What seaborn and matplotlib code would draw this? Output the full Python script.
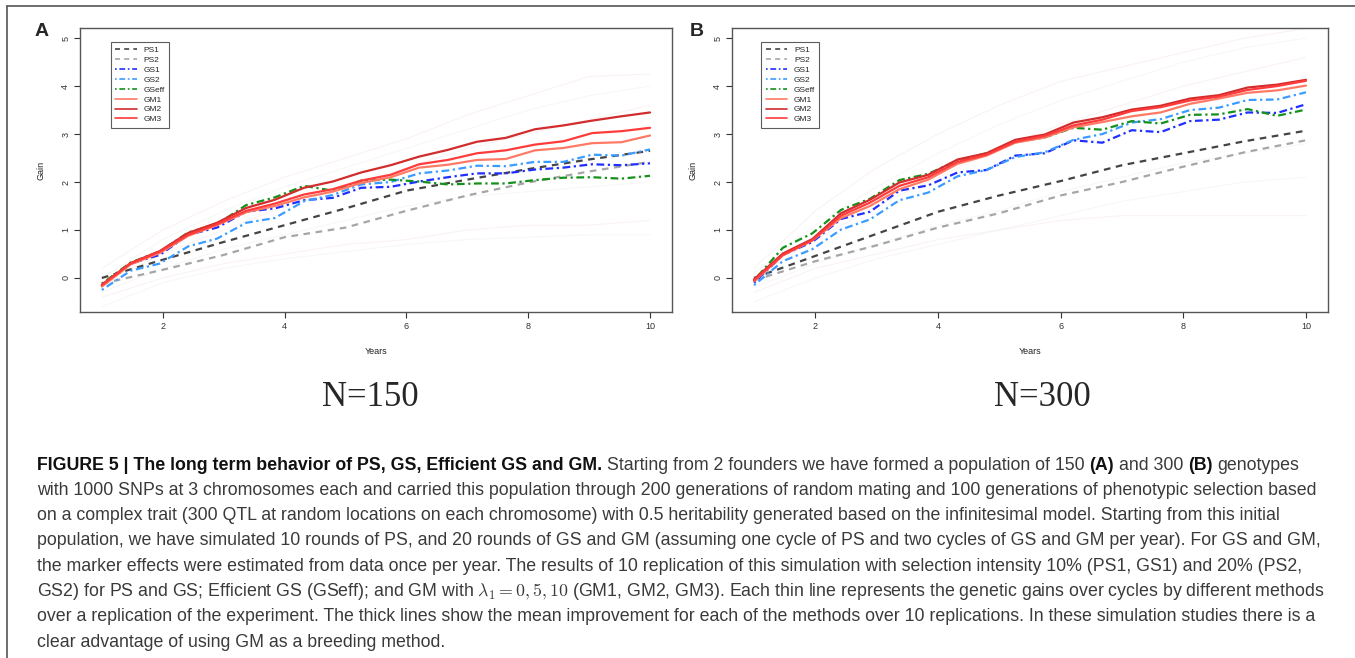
import matplotlib
matplotlib.use("Agg")
import matplotlib.pyplot as plt
import seaborn as sns
import pandas as pd
from matplotlib.lines import Line2D

# years at which each method was recorded
years_ps = [1, 2, 3, 4, 5, 6, 7, 8, 9, 10]
years_gs = [1.00, 1.47, 1.95, 2.42, 2.89, 3.37, 3.84, 4.32, 4.79, 5.26,
            5.74, 6.21, 6.68, 7.16, 7.63, 8.11, 8.58, 9.05, 9.53, 10.00]

# panel A (N=150), mean curves
a_ps1 = [0.00, 0.38, 0.75, 1.10, 1.45, 1.82, 2.05, 2.27, 2.47, 2.65]
a_ps2 = [-0.12, 0.17, 0.48, 0.85, 1.05, 1.40, 1.72, 1.99, 2.22, 2.42]
a_gs1 = [-0.15, 0.30, 0.48, 0.90, 1.05, 1.38, 1.45, 1.62, 1.67, 1.88,
         1.90, 2.01, 2.10, 2.18, 2.18, 2.26, 2.30, 2.37, 2.35, 2.39]
a_gs2 = [-0.25, 0.15, 0.30, 0.66, 0.82, 1.15, 1.25, 1.60, 1.73, 1.95,
         2.00, 2.18, 2.24, 2.34, 2.33, 2.42, 2.42, 2.57, 2.55, 2.68]
a_gseff = [-0.12, 0.32, 0.55, 0.95, 1.12, 1.52, 1.68, 1.92, 1.82, 2.03,
           2.05, 2.01, 1.95, 1.97, 1.97, 2.04, 2.09, 2.10, 2.07, 2.13]
a_gm1 = [-0.18, 0.28, 0.52, 0.88, 1.10, 1.37, 1.50, 1.68, 1.80, 1.98,
         2.10, 2.30, 2.36, 2.46, 2.48, 2.66, 2.71, 2.81, 2.83, 2.97]
a_gm2 = [-0.14, 0.31, 0.56, 0.94, 1.15, 1.46, 1.63, 1.88, 2.01, 2.20,
         2.35, 2.53, 2.67, 2.84, 2.92, 3.10, 3.18, 3.28, 3.37, 3.45]
a_gm3 = [-0.15, 0.30, 0.55, 0.90, 1.12, 1.40, 1.55, 1.74, 1.85, 2.03,
         2.15, 2.37, 2.46, 2.60, 2.66, 2.78, 2.85, 3.02, 3.06, 3.13]

# panel B (N=300), mean curves
b_ps1 = [0.00, 0.46, 0.92, 1.38, 1.72, 2.02, 2.35, 2.60, 2.85, 3.07]
b_ps2 = [-0.05, 0.35, 0.68, 1.05, 1.35, 1.72, 2.00, 2.32, 2.62, 2.87]
b_gs1 = [-0.10, 0.48, 0.75, 1.23, 1.38, 1.82, 1.93, 2.20, 2.25, 2.55,
         2.60, 2.87, 2.82, 3.08, 3.04, 3.27, 3.30, 3.45, 3.44, 3.62]
b_gs2 = [-0.15, 0.35, 0.60, 1.01, 1.22, 1.62, 1.78, 2.12, 2.25, 2.52,
         2.62, 2.88, 3.00, 3.24, 3.31, 3.50, 3.55, 3.71, 3.72, 3.87]
b_gseff = [-0.05, 0.63, 0.93, 1.42, 1.65, 2.04, 2.17, 2.45, 2.60, 2.83,
           2.93, 3.13, 3.09, 3.27, 3.22, 3.40, 3.41, 3.52, 3.38, 3.51]
b_gm1 = [-0.07, 0.47, 0.78, 1.25, 1.50, 1.85, 2.05, 2.38, 2.55, 2.82,
         2.93, 3.14, 3.25, 3.37, 3.45, 3.63, 3.74, 3.86, 3.91, 4.01]
b_gm2 = [-0.03, 0.51, 0.81, 1.35, 1.63, 1.99, 2.15, 2.47, 2.60, 2.88,
         2.99, 3.24, 3.35, 3.51, 3.59, 3.74, 3.81, 3.97, 4.03, 4.13]
b_gm3 = [-0.05, 0.48, 0.79, 1.30, 1.57, 1.92, 2.10, 2.42, 2.57, 2.84,
         2.96, 3.18, 3.30, 3.48, 3.56, 3.70, 3.78, 3.92, 4.00, 4.11]

# a few of the thin replicate curves (read at whole years)
a_reps = [
    [0.20, 1.00, 1.60, 2.10, 2.50, 2.90, 3.40, 3.80, 4.20, 4.25],
    [0.00, 0.80, 1.40, 1.90, 2.30, 2.70, 3.10, 3.50, 3.80, 4.00],
    [-0.10, 0.50, 1.00, 1.50, 1.90, 2.30, 2.70, 3.00, 3.30, 3.60],
    [-0.30, 0.20, 0.60, 0.90, 1.20, 1.50, 1.70, 1.80, 1.90, 2.00],
    [-0.40, 0.00, 0.30, 0.50, 0.70, 0.80, 1.00, 1.10, 1.10, 1.20],
    [-0.60, -0.10, 0.20, 0.40, 0.55, 0.70, 0.80, 0.85, 0.90, 0.90],
]
b_reps = [
    [0.20, 1.40, 2.30, 3.00, 3.60, 4.10, 4.40, 4.70, 5.00, 5.20],
    [0.10, 1.10, 1.90, 2.60, 3.20, 3.70, 4.10, 4.50, 4.80, 5.00],
    [0.00, 0.80, 1.50, 2.10, 2.70, 3.20, 3.60, 4.00, 4.30, 4.60],
    [-0.20, 0.30, 0.70, 1.10, 1.40, 1.80, 2.10, 2.40, 2.60, 2.80],
    [-0.30, 0.20, 0.50, 0.80, 1.00, 1.20, 1.30, 1.30, 1.30, 1.30],
    [-0.50, 0.00, 0.40, 0.70, 1.00, 1.30, 1.60, 1.80, 2.00, 2.10],
]

methods = ["PS1", "PS2", "GS1", "GS2", "GSeff", "GM1", "GM2", "GM3"]
colors = {"PS1": "#444444", "PS2": "#a6a6a6", "GS1": "#1f2fff", "GS2": "#3b9cff",
          "GSeff": "#13911a", "GM1": "#ff7a66", "GM2": "#d22c2c", "GM3": "#ff3b3b"}
dash = (0, (3, 2.5))
dotdash = (0, (1, 1.6, 3.5, 1.6))
styles = {"PS1": dash, "PS2": dash, "GS1": dotdash, "GS2": dotdash,
          "GSeff": dotdash, "GM1": "-", "GM2": "-", "GM3": "-"}

sns.set_style("white")
plt.rcParams["font.family"] = ["Liberation Sans", "DejaVu Sans"]
plt.rcParams["mathtext.fontset"] = "cm"

fig = plt.figure(figsize=(13.55, 6.58), dpi=100)
axA = fig.add_axes([0.0590, 0.5258, 0.4369, 0.4316])
axB = fig.add_axes([0.5402, 0.5258, 0.4399, 0.4316])


def draw_panel(ax, reps, curves, leg_x):
    for i, r in enumerate(reps):
        c = "#f6e4e4" if i % 2 == 0 else "#eeeeee"
        sns.lineplot(x=years_ps, y=r, ax=ax, color=c, lw=0.8, alpha=0.45)
    for m in methods:
        xs = years_ps if m.startswith("PS") else years_gs
        df = pd.DataFrame({"Years": xs, "Gain": curves[m]})
        sns.lineplot(data=df, x="Years", y="Gain", ax=ax, color=colors[m],
                     linestyle=styles[m], lw=1.6, label=m)
    ax.set_xlim(0.64, 10.36)
    ax.set_ylim(-0.71, 5.21)
    ax.set_xticks([2, 4, 6, 8, 10])
    ax.set_yticks([0, 1, 2, 3, 4, 5])
    ax.set_yticklabels([str(v) for v in range(6)], rotation=90, va="center")
    ax.tick_params(bottom=True, left=True, direction="out", length=4, width=0.8,
                   labelsize=6.5, colors="#333333", pad=3)
    for s in ax.spines.values():
        s.set_color("#555555")
        s.set_linewidth(1.0)
    ax.set_xlabel("Years", fontsize=6.5, labelpad=12, color="#222222")
    ax.set_ylabel("Gain", fontsize=6.5, labelpad=11, color="#222222")
    leg = ax.legend(loc="upper left", bbox_to_anchor=(leg_x, 0.951), borderaxespad=0,
                    fontsize=6, frameon=True, fancybox=False, handlelength=2.6,
                    labelspacing=0.25, borderpad=0.5, handletextpad=0.8)
    leg.get_frame().set_edgecolor("#333333")
    leg.get_frame().set_linewidth(0.8)
    for h in leg.get_lines():
        h.set_linewidth(1.2)


draw_panel(axA, a_reps, dict(zip(methods, [a_ps1, a_ps2, a_gs1, a_gs2, a_gseff,
                                           a_gm1, a_gm2, a_gm3])), 0.052)
draw_panel(axB, b_reps, dict(zip(methods, [b_ps1, b_ps2, b_gs1, b_gs2, b_gseff,
                                           b_gm1, b_gm2, b_gm3])), 0.0495)

W, H = 1355.0, 658.0
fig.text(42 / W, 1 - 32 / H, "A", fontsize=14, fontweight="bold", ha="center", va="center")
fig.text(697 / W, 1 - 32 / H, "B", fontsize=14, fontweight="bold", ha="center", va="center")
fig.text(370 / W, 1 - 397 / H, "N=150", fontsize=25, family="Liberation Serif",
         ha="center", va="center")
fig.text(1042 / W, 1 - 397 / H, "N=300", fontsize=25, family="Liberation Serif",
         ha="center", va="center")

# frame of the figure box
fig.add_artist(Line2D([7 / W, 1], [1 - 6 / H, 1 - 6 / H], color="#555555", lw=1.2))
fig.add_artist(Line2D([7 / W, 7 / W], [0, 1 - 6 / H], color="#555555", lw=1.2))

caption = [
    [("FIGURE 5 | The long term behavior of PS, GS, Efficient GS and GM.", True),
     (" Starting from 2 founders we have formed a population of 150 ", False),
     ("(A)", True), (" and 300 ", False), ("(B)", True), (" genotypes", False)],
    [("with 1000 SNPs at 3 chromosomes each and carried this population through 200 generations "
      "of random mating and 100 generations of phenotypic selection based", False)],
    [("on a complex trait (300 QTL at random locations on each chromosome) with 0.5 heritability "
      "generated based on the infinitesimal model. Starting from this initial", False)],
    [("population, we have simulated 10 rounds of PS, and 20 rounds of GS and GM (assuming one "
      "cycle of PS and two cycles of GS and GM per year). For GS and GM,", False)],
    [("the marker effects were estimated from data once per year. The results of 10 replication "
      "of this simulation with selection intensity 10% (PS1, GS1) and 20% (PS2,", False)],
    [("GS2) for PS and GS; Efficient GS (GSeff); and GM with $\\lambda_1 = 0, 5, 10$ (GM1, GM2, "
      "GM3). Each thin line represents the genetic gains over cycles by different methods", False)],
    [("over a replication of the experiment. The thick lines show the mean improvement for each "
      "of the methods over 10 replications. In these simulation studies there is a", False)],
    [("clear advantage of using GM as a breeding method.", False)],
]

renderer = fig.canvas.get_renderer()
cap_font = ["Liberation Sans", "DejaVu Sans"]
cap_size = 12.8


def text_width(s, bold):
    t = fig.text(0, 0, s, fontsize=cap_size, family=cap_font,
                 fontweight="bold" if bold else "normal")
    w = t.get_window_extent(renderer).width
    t.remove()
    return w


space_w = text_width("x x", False) - text_width("xx", False)

for i, parts in enumerate(caption):
    y = 1 - (465 + 25.3 * i) / H
    x = 37.0
    for s, bold in parts:
        lead = len(s) - len(s.lstrip(" "))
        x += lead * space_w
        body = s.strip(" ")
        t = fig.text(x / W, y, body, fontsize=cap_size, family=cap_font,
                     fontweight="bold" if bold else "normal",
                     color="#111111" if bold else "#3a3a3a", va="center")
        x += t.get_window_extent(renderer).width
        x += (len(s) - len(s.rstrip(" "))) * space_w

fig.savefig("out.png", dpi=100)
